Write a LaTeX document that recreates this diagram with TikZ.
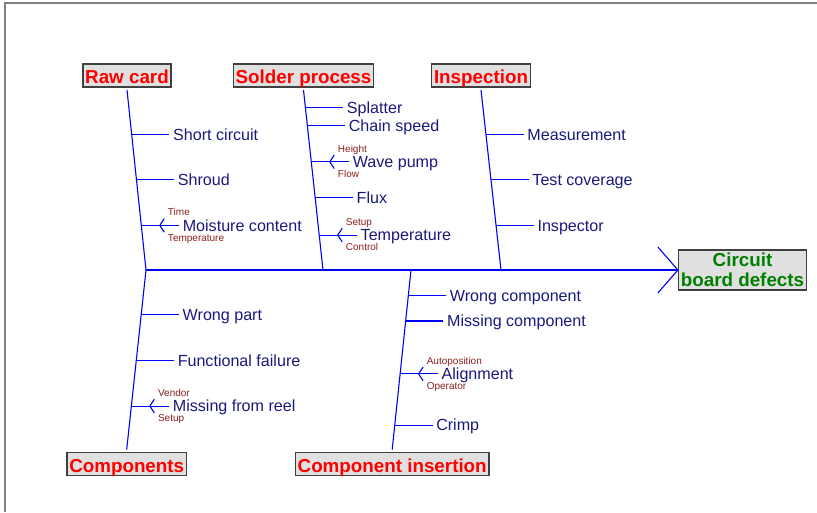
\documentclass[tikz,border=0pt]{standalone}
\usepackage{fontspec}
\setmainfont{Liberation Sans}
\usepackage{tikz}
\usetikzlibrary{
    calc,
    positioning
}

\definecolor{boneblue}{RGB}{0,0,255}
\definecolor{causenavy}{RGB}{25,25,125}
\definecolor{subred}{RGB}{140,30,30}
\definecolor{catred}{RGB}{255,0,0}
\definecolor{effgreen}{RGB}{0,128,0}
\definecolor{boxgray}{RGB}{224,224,224}
\definecolor{boxedge}{RGB}{64,64,64}

\begin{document}
\begin{tikzpicture}[x=1pt, y=-1pt,
    bone/.style={boneblue, line width=1.1pt},
    cause/.style={anchor=west, inner xsep=3.5pt, inner ysep=0pt, text height=11.5pt, text depth=0pt,
        text=causenavy, font=\fontsize{16.1}{18}\selectfont},
    subcause/.style={anchor=west, inner sep=0pt, text height=7pt, text depth=0pt,
        text=subred, font=\fontsize{10}{11}\selectfont},
    category/.style={draw=boxedge, line width=1.3pt, fill=boxgray, text=catred,
        font=\fontsize{18.8}{20}\selectfont\bfseries, inner xsep=2.3pt, inner ysep=3pt,
        text height=16.5pt, text depth=0.5pt, outer sep=3pt},
    effect/.style={draw=boxedge, line width=1.3pt, fill=boxgray, text=effgreen,
        font=\fontsize{18.8}{20}\selectfont\bfseries, align=center, inner sep=1pt,
        minimum width=128pt, minimum height=40pt}
    ]
        \useasboundingbox (0,0) rectangle (817,512);

        % Page frame
        \draw[gray, line width=1.5pt] (5,512) -- (5,3) -- (817,3);

        % Category boxes and effect
        \node[category] (raw) at (127,75.5) {Raw card};
        \node[category] (solder) at (303.5,75.5) {Solder process};
        \node[category] (insp) at (481,75.5) {Inspection};
        \node[category] (comp) at (126.7,464) {Components};
        \node[category] (ins) at (392.2,464) {Component insertion};
        \node[effect] (eff) at (742.5,270) {Circuit\\board defects};

        % Joints on the spine
        \coordinate (j1) at (146,270);
        \coordinate (j2) at (323,270);
        \coordinate (j3) at (501,270);
        \coordinate (j4) at (411,270);

        % Spine with open head
        \draw[bone] (j1) -- (eff.west);
        \draw[bone] ($(eff.west)+(-20,-23)$) -- (eff.west) -- ($(eff.west)+(-20,23)$);

        % Main bones
        \draw[bone] (raw.south) -- (j1);
        \draw[bone] (solder.south) -- (j2);
        \draw[bone] (insp.south) -- (j3);
        \draw[bone] (j1) -- (comp.north);
        \draw[bone] (j4) -- (ins.north);

        % Causes on the upper bones
        \foreach \f/\n/\txt in {0.247/rc1/Short circuit, 0.497/rc2/Shroud, 0.752/rc3/Moisture content} {
            \coordinate (\n) at ($(raw.south)!\f!(j1)$);
            \node[cause, right=37.8pt of \n] (\n-t) {\txt};
            \draw[bone] (\n) -- (\n-t);
        }
        \foreach \f/\n/\txt in {0.097/sp1/Splatter, 0.197/sp2/Chain speed, 0.399/sp3/Wave pump,
                               0.599/sp4/Flux, 0.806/sp5/Temperature} {
            \coordinate (\n) at ($(solder.south)!\f!(j2)$);
            \node[cause, right=37.8pt of \n] (\n-t) {\txt};
            \draw[bone] (\n) -- (\n-t);
        }
        \foreach \f/\n/\txt in {0.247/in1/Measurement, 0.497/in2/Test coverage, 0.752/in3/Inspector} {
            \coordinate (\n) at ($(insp.south)!\f!(j3)$);
            \node[cause, right=37.8pt of \n] (\n-t) {\txt};
            \draw[bone] (\n) -- (\n-t);
        }

        % Causes on the lower bones
        \foreach \f/\n/\txt in {0.247/co1/Wrong part, 0.505/co2/Functional failure, 0.758/co3/Missing from reel} {
            \coordinate (\n) at ($(j1)!\f!(comp.north)$);
            \node[cause, right=37.8pt of \n] (\n-t) {\txt};
            \draw[bone] (\n) -- (\n-t);
        }
        \foreach \f/\n/\txt in {0.141/ci1/Wrong component, 0.284/ci2/Missing component,
                               0.579/ci3/Alignment, 0.864/ci4/Crimp} {
            \coordinate (\n) at ($(j4)!\f!(ins.north)$);
            \node[cause, right=37.8pt of \n] (\n-t) {\txt};
            \draw[bone] (\n) -- (\n-t);
        }

        % Sub-causes with small heads
        \foreach \n/\up/\dn in {rc3/Time/Temperature, sp3/Height/Flow, sp5/Setup/Control,
                                co3/Vendor/Setup, ci3/Autoposition/Operator} {
            \draw[bone] ($(\n)+(23,-6.8)$) -- ($(\n)+(18.5,0)$) -- ($(\n)+(23,6.8)$);
            \node[subcause] (\n-up) at ($(\n)+(26.5,-13)$) {\up};
            \node[subcause] (\n-dn) at ($(\n)+(26.5,12.3)$) {\dn};
        }

    \end{tikzpicture}
\end{document}
